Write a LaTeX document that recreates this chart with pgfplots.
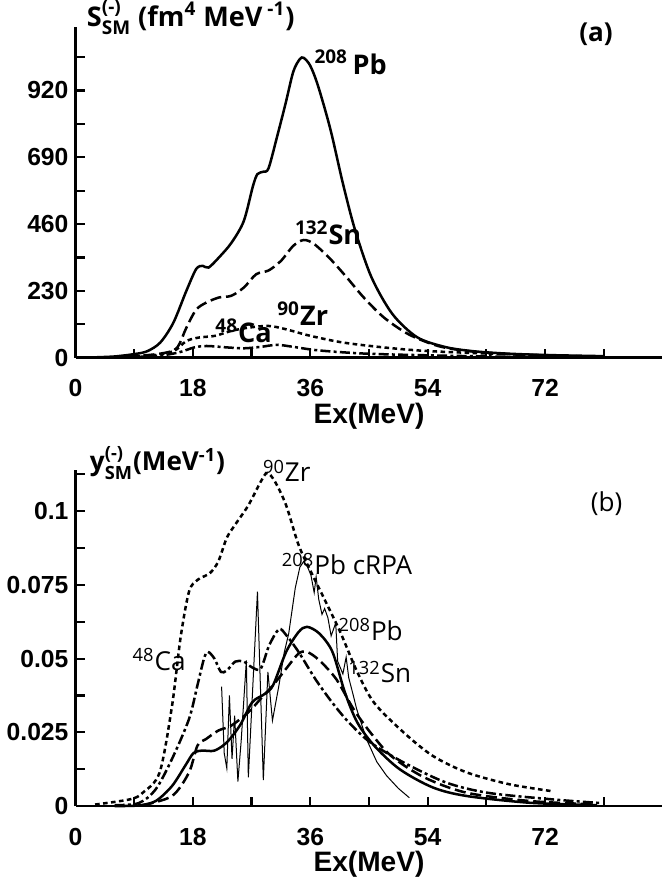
\documentclass[border=0pt]{standalone}
\usepackage{amsmath}
\usepackage{fontspec}
\setmainfont{Open Sans}
\newfontfamily\tickfont{Liberation Sans}
\usepackage{pgfplots}
\pgfplotsset{compat=1.18}

\pgfplotsset{
  panel/.style={
    scale only axis,
    width=292.5pt,
    xmin=0, xmax=90, ymin=0,
    axis lines=left,
    axis line style={-, line width=1.3pt},
    xtick={0,18,36,54,72},
    xticklabels={0,18,36,54,72},
    minor xtick={9,27,45,63,81},
    tick align=inside,
    major tick length=4.5pt,
    minor tick length=4.5pt,
    every tick/.style={black, line width=1.1pt},
    tick label style={font=\tickfont\bfseries\fontsize{12.3}{13}\selectfont},
    xticklabel shift=7.5pt,
    xlabel={Ex(MeV)},
    xlabel style={font=\tickfont\bfseries\fontsize{14}{15}\selectfont,
      at={(axis description cs:0.5,0)}, anchor=center, yshift=-29pt},
    clip=false,
  },
}
\tikzset{
  pb/.style={black, line width=1.25pt},
  sn/.style={black, line width=1.25pt, dash pattern=on 5.5pt off 2.4pt},
  zr/.style={black, line width=1.25pt, dash pattern=on 2.3pt off 1.7pt},
  ca/.style={black, line width=1.25pt, dash pattern=on 5pt off 1.6pt on 1.5pt off 1.6pt},
  lab/.style={font=\bfseries\fontsize{13.5}{14}\selectfont, anchor=base west, inner sep=0pt},
  labb/.style={font=\fontsize{13}{14}\selectfont, anchor=base west, inner sep=0pt},
}

\begin{document}
\begin{tikzpicture}
% panel (a)
\begin{axis}[panel, at={(0,223.5pt)}, height=165pt, ymax=1140,
  ytick={0,230,460,690,920},
  yticklabels={0,230,460,690,920},
  minor ytick={115,345,575,805,1035}]
\addplot[pb, smooth] coordinates {
 (3,1) (6,4) (9,12) (11,22) (13,52) (15,120) (17,230) (18.5,305) (19.5,316)
 (20.4,310) (22,345) (23.9,395) (25.8,470) (27.2,590) (27.9,632) (28.8,640)
 (29.6,652) (30.9,760) (32.2,874) (33.4,985) (34.4,1028) (35,1032) (36,1005)
 (37.2,935) (39.1,785) (41,600) (42.9,437) (45.4,276) (48.6,150) (52.4,70)
 (56.8,36) (61,22) (66,14) (72,9) (81,5)};
\addplot[sn, smooth] coordinates {
 (8,3) (12.5,12) (15.1,25) (16,50) (17,103) (18.5,165) (20.1,190) (22,207)
 (23.9,213) (25.8,241) (27.7,287) (29.6,300) (31.5,333) (33.4,385) (35,405)
 (36.6,391) (39.1,339) (41.6,276) (44.2,207) (47.3,138) (51.1,80) (55.6,40)
 (60,23) (65,14) (69.5,9) (80,3)};
\addplot[zr, smooth] coordinates {
 (8,2) (12,8) (15.1,23) (17,57) (18.9,69) (21.4,75) (23.9,92) (26.5,103)
 (29.6,109) (32.2,98) (36,75) (41,52) (47.3,35) (53.7,23) (63.2,14) (72.7,8)};
\addplot[ca, smooth] coordinates {
 (8,2) (12.5,6) (15.7,17) (18.2,35) (20.1,40) (23.3,35) (25.8,32) (28.4,37)
 (30.9,44) (33.4,37) (37.2,25) (44.2,14) (53.7,8) (66.3,3) (80,1)};
\node[lab] at (axis cs:36.6,975) {\textsuperscript{208}\,Pb};
\node[lab] at (axis cs:33.6,389) {\textsuperscript{132}Sn};
\node[lab] at (axis cs:30.9,109) {\textsuperscript{90}Zr};
\node[lab] at (axis cs:21.4,52) {\textsuperscript{48}Ca};
\node[font=\bfseries\fontsize{13}{14}\selectfont] at (rel axis cs:0.887,0.976) {(a)};
\node[anchor=west, inner sep=0pt, xshift=5.5pt, yshift=4.5pt,
  font=\bfseries\fontsize{13.5}{14}\selectfont] at (rel axis cs:0,1)
  {S$^{\text{(-)}}_{\text{SM}}$ (fm$^{\text{4}}$ MeV$^{\text{ -1}}$)};
\end{axis}

% panel (b)
\begin{axis}[panel, at={(0,0)}, height=167.5pt, ymax=0.114,
  ytick={0,0.025,0.05,0.075,0.1},
  yticklabels={0,0.025,0.05,0.075,0.1},
  minor ytick={0.0125,0.0375,0.0625,0.0875,0.1125}]
\addplot[zr, smooth] coordinates {
 (3,0.0005) (8.4,0.0023) (10.3,0.0045) (12.9,0.0114) (14.8,0.034) (16.1,0.057)
 (17.4,0.0727) (18.7,0.0767) (20.6,0.079) (21.9,0.083) (23.2,0.091) (24.5,0.0955)
 (26.5,0.102) (28.4,0.110) (29.4,0.113) (30.6,0.110) (32.3,0.102) (34.2,0.0886)
 (36.1,0.0795) (38.1,0.0705) (40.6,0.059) (43.2,0.0455) (45.8,0.035) (50.3,0.025)
 (54.8,0.017) (60,0.0114) (66.5,0.0074) (72.9,0.0051)};
\addplot[ca, smooth] coordinates {
 (6,0.0003) (9.7,0.001) (12.3,0.0057) (14.8,0.016) (17.4,0.0295) (18.7,0.041)
 (19.7,0.05) (20.3,0.0523) (21.3,0.05) (22.3,0.0455) (23.2,0.046) (24.5,0.049)
 (25.8,0.049) (27.1,0.047) (28.4,0.0466) (29.7,0.0545) (31.2,0.060) (32.3,0.058)
 (34.2,0.0523) (36.8,0.043) (39.4,0.035) (41.9,0.0284) (45.2,0.0216) (50.3,0.0148)
 (56.8,0.008) (63.2,0.0045) (72.9,0.0023) (80.6,0.001)};
\addplot[sn, smooth] coordinates {
 (10.3,0.0003) (14.8,0.0034) (17.4,0.0114) (18.7,0.0205) (20,0.0227) (21.9,0.0256)
 (23.9,0.0273) (26.5,0.0318) (28.4,0.0364) (30.3,0.041) (32.3,0.0466) (34.2,0.0517)
 (35.5,0.0523) (37.4,0.0494) (40,0.043) (42.6,0.033) (45.2,0.025) (48.4,0.017)
 (53.5,0.0097) (60,0.0045) (69.7,0.0017) (79.4,0.0006)};
\addplot[pb, smooth] coordinates {
 (6,0) (9.7,0.0002) (12.3,0.0017) (14.8,0.0068) (16.8,0.0136) (18.1,0.018)
 (19.4,0.0188) (21.3,0.0188) (23.2,0.0216) (25.2,0.0273) (27.1,0.0352) (29,0.038)
 (30.3,0.041) (32.3,0.0523) (34.2,0.059) (35.5,0.0608) (37.4,0.0585) (39.4,0.0523)
 (41.3,0.0386) (43.2,0.0284) (45.8,0.0205) (49.7,0.0125) (54.8,0.0063) (60,0.0034)
 (69.7,0.0011) (80,0.0003)};
\addplot[black, line width=0.5pt] coordinates {
 (22.4,0.0405) (22.8,0.018) (23.2,0.0128) (23.6,0.0375) (24.0,0.016) (24.4,0.0307)
 (24.9,0.0083) (25.4,0.022) (26.2,0.0494) (26.5,0.0097) (27.9,0.0727) (28.8,0.0088)
 (29.5,0.0455) (30.2,0.029) (31.2,0.041) (32.0,0.052) (32.7,0.0586) (33.7,0.074)
 (34.4,0.081) (35.0,0.083) (35.6,0.081) (36.1,0.0783) (36.6,0.0724) (36.9,0.0777)
 (37.3,0.0701) (37.8,0.065) (38.2,0.067) (38.7,0.0639) (39.2,0.0577) (39.9,0.0621)
 (40.2,0.0491) (41.0,0.0448) (41.5,0.0505) (41.9,0.0435) (42.6,0.0375) (43.1,0.033)
 (44.6,0.0228) (46.2,0.015) (47.7,0.0103) (49.5,0.006) (51.2,0.0028)};
\node[labb] at (axis cs:28.7,0.110) {\textsuperscript{90}Zr};
\node[labb] at (axis cs:31.6,0.0784) {\textsuperscript{208}Pb cRPA};
\node[labb] at (axis cs:40.3,0.0563) {\textsuperscript{208}Pb};
\node[labb] at (axis cs:41.8,0.0418) {\textsuperscript{132}Sn};
\node[labb] at (axis cs:8.7,0.046) {\textsuperscript{48}Ca};
\node[font=\fontsize{13}{14}\selectfont] at (rel axis cs:0.905,0.90) {(b)};
\node[anchor=west, inner sep=0pt, xshift=7pt, yshift=3.5pt,
  font=\bfseries\fontsize{13}{14}\selectfont] at (rel axis cs:0,1)
  {y$^{\text{(-)}}_{\text{SM}}$(MeV$^{\text{-1}}$)};
\end{axis}
\end{tikzpicture}
\end{document}
